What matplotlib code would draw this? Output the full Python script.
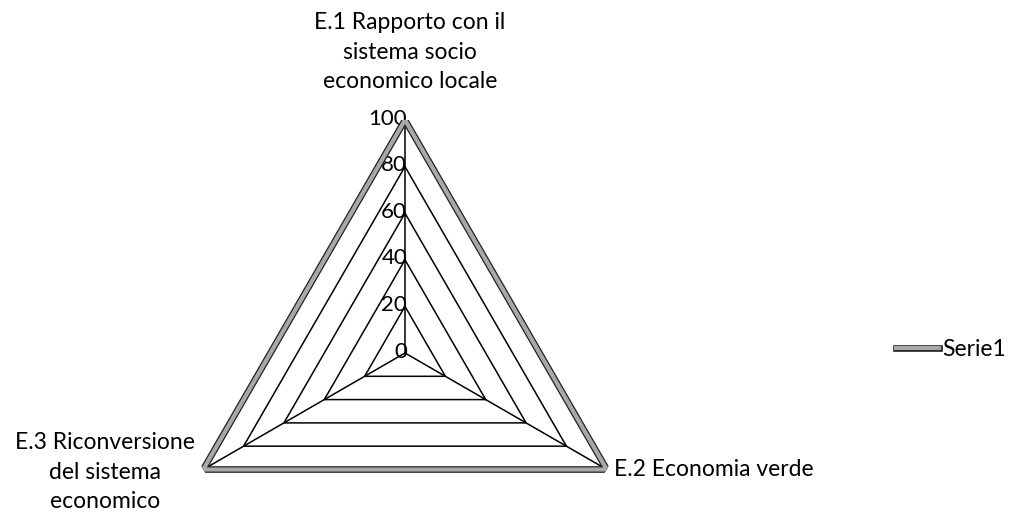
import numpy as np
import matplotlib
matplotlib.use("Agg")
import matplotlib.pyplot as plt
import matplotlib.patheffects as pe

categories = ["E.1 Rapporto con il\nsistema socio\neconomico locale",
              "E.2 Economia verde",
              "E.3 Riconversione\ndel sistema\neconomico"]
serie1 = [100, 100, 100]
levels = [0, 20, 40, 60, 80, 100]
series_name = "Serie1"

plt.rcParams['font.family'] = ['Lato', 'DejaVu Sans']

fig = plt.figure(figsize=(10.17, 5.19), dpi=100)
# center at (405, 353) px, radius 233 px
ax = fig.add_axes([(405 - 233) / 1017, (519 - 353 - 233) / 519, 466 / 1017, 466 / 519],
                  projection='polar')
ax.set_theta_offset(np.pi / 2)
ax.set_theta_direction(-1)
ax.set_ylim(0, 100)
ax.axis('off')

angles = np.linspace(0, 2 * np.pi, len(categories), endpoint=False)
closed = np.append(angles, angles[0])

# triangular grid
for lv in levels[1:]:
    ax.plot(closed, [lv] * len(closed), color='black', lw=1.1, zorder=1)
for a in angles:
    ax.plot([a, a], [0, levels[-1]], color='black', lw=1.1, zorder=1)

# series
vals = serie1 + serie1[:1]
line, = ax.plot(closed, vals, color='#a8a8a8', lw=3, label=series_name, zorder=3,
                path_effects=[pe.Stroke(linewidth=4.8, foreground='#222222'), pe.Normal()])

# value labels along vertical spoke
for lv in levels:
    ax.annotate(str(lv), (0, lv), xytext=(1.5, 1), textcoords='offset points',
                ha='right', va='center', fontsize=16, color='black', zorder=2)

# category labels
fs = 16.5
ax.annotate(categories[0], (angles[0], 100), xytext=(3.6, 20), textcoords='offset points',
            ha='center', va='bottom', multialignment='center', fontsize=fs, linespacing=1.5)
ax.annotate(categories[1], (angles[1], 100), xytext=(5, 0), textcoords='offset points',
            ha='left', va='center', fontsize=fs)
ax.annotate(categories[2], (angles[2], 100), xytext=(-6, -2), textcoords='offset points',
            ha='right', va='center', multialignment='center', fontsize=fs, linespacing=1.5)

fig.legend(handles=[line], loc='center left', bbox_to_anchor=(875 / 1017, 1 - 350 / 519),
           frameon=False, fontsize=fs, handlelength=1.9, handletextpad=0.15)

fig.savefig("out.png", dpi=100)
